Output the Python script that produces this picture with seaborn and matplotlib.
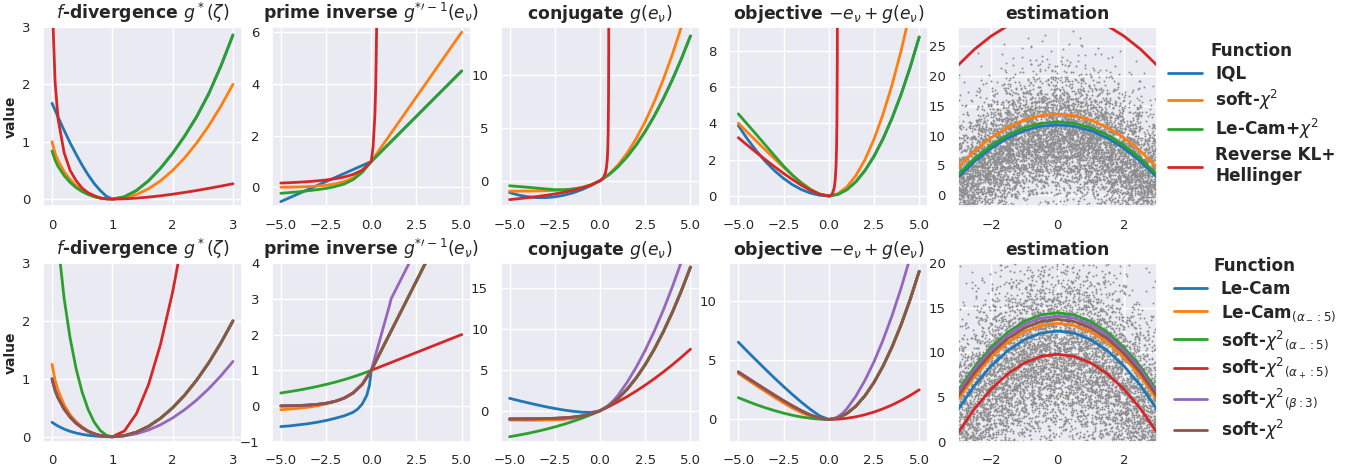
import math
import matplotlib
matplotlib.use("Agg")
import matplotlib.pyplot as plt
import pandas as pd
import seaborn as sns

# ------------------------------------------------------------------ data
TOP_NAMES = ["IQL", r"soft-$\chi^2$", r"Le-Cam+$\chi^2$", "Reverse KL+\nHellinger"]
BOT_NAMES = ["Le-Cam", r"Le-Cam$_{(\alpha_-:5)}$", r"soft-$\chi^2{}_{(\alpha_-:5)}$",
             r"soft-$\chi^2{}_{(\alpha_+:5)}$", r"soft-$\chi^2{}_{(\beta:3)}$", r"soft-$\chi^2$"]
TITLES = [r"$f$-divergence $g^*(\zeta)$", r"prime inverse $g^{*\prime-1}(e_\nu)$",
          r"conjugate $g(e_\nu)$", r"objective $-e_\nu+g(e_\nu)$", "estimation"]

# x grids
X_F = [0, 0.05, 0.1, 0.2, 0.3, 0.4, 0.5, 0.6, 0.7, 0.8, 0.9, 1.0,
       1.2, 1.4, 1.6, 1.8, 2.0, 2.2, 2.4, 2.6, 2.8, 3.0]
X_F_RKL = [0.01, 0.02, 0.05, 0.1, 0.2, 0.3, 0.4, 0.5, 0.6, 0.7, 0.8, 0.9, 1.0,
           1.2, 1.4, 1.6, 1.8, 2.0, 2.2, 2.4, 2.6, 2.8, 3.0]
X_E = [-5, -4.5, -4, -3.5, -3, -2.5, -2, -1.5, -1, -0.5, 0,
       0.5, 1, 1.5, 2, 2.5, 3, 3.5, 4, 4.5, 5]
X_E_RKL_P = [-5, -4.5, -4, -3.5, -3, -2.5, -2, -1.5, -1, -0.5, 0,
             0.1, 0.2, 0.25, 0.3, 0.35]
X_E_RKL_G = [-5, -4.5, -4, -3.5, -3, -2.5, -2, -1.5, -1, -0.5, 0,
             0.1, 0.2, 0.3, 0.35, 0.4, 0.43, 0.45, 0.47, 0.48, 0.49]
X_S = [-3, -2.5, -2, -1.5, -1, -0.5, 0, 0.5, 1, 1.5, 2, 2.5, 3]

# ---- top row
F_IQL = [1.67, 1.55, 1.43, 1.20, 0.98, 0.78, 0.59, 0.42, 0.27, 0.15, 0.05, 0.0,
         0.04, 0.15, 0.32, 0.54, 0.80, 1.10, 1.44, 1.84, 2.32, 2.86]
F_SOFT = [1.0, 0.80, 0.67, 0.48, 0.34, 0.23, 0.15, 0.09, 0.05, 0.02, 0.005, 0.0,
          0.02, 0.08, 0.18, 0.32, 0.5, 0.72, 0.98, 1.28, 1.62, 2.0]
F_LECAM = [0.84, 0.68, 0.57, 0.41, 0.29, 0.20, 0.13, 0.08, 0.04, 0.017, 0.004, 0.0,
           0.04, 0.15, 0.32, 0.54, 0.80, 1.10, 1.44, 1.84, 2.32, 2.86]
F_RKL = [3.6, 2.93, 2.05, 1.40, 0.81, 0.50, 0.32, 0.19, 0.11, 0.06, 0.02, 0.005, 0.0,
         0.005, 0.017, 0.035, 0.058, 0.086, 0.117, 0.151, 0.188, 0.227, 0.268]

P_IQL = [-0.55, -0.395, -0.24, -0.085, 0.07, 0.225, 0.38, 0.535, 0.69, 0.845, 1.0,
         1.35, 1.7, 2.05, 2.4, 2.75, 3.1, 3.45, 3.8, 4.15, 4.5]
P_SOFT = [0.007, 0.011, 0.018, 0.03, 0.05, 0.082, 0.135, 0.223, 0.368, 0.607, 1.0,
          1.5, 2.0, 2.5, 3.0, 3.5, 4.0, 4.5, 5.0, 5.5, 6.0]
P_LECAM = [-0.23, -0.2, -0.17, -0.13, -0.09, -0.04, 0.03, 0.13, 0.3, 0.58, 1.0,
           1.35, 1.7, 2.05, 2.4, 2.75, 3.1, 3.45, 3.8, 4.15, 4.5]
P_RKL = [0.167, 0.182, 0.2, 0.222, 0.25, 0.286, 0.333, 0.4, 0.5, 0.667, 1.0,
         1.56, 2.78, 4.0, 6.25, 11.1]

C_IQL = [-1.125, -1.361, -1.52, -1.601, -1.605, -1.531, -1.38, -1.151, -0.845, -0.461, 0.0,
         0.588, 1.35, 2.288, 3.4, 4.688, 6.15, 7.788, 9.6, 11.588, 13.75]
C_SOFT = [-0.993, -0.989, -0.982, -0.970, -0.950, -0.918, -0.865, -0.777, -0.632, -0.393, 0.0,
          0.625, 1.5, 2.625, 4.0, 5.625, 7.5, 9.625, 12.0, 14.625, 17.5]
C_LECAM = [-0.48, -0.55, -0.62, -0.70, -0.78, -0.85, -0.86, -0.80, -0.66, -0.40, 0.0,
           0.588, 1.35, 2.288, 3.4, 4.688, 6.15, 7.788, 9.6, 11.588, 13.75]
C_RKL = [-1.792, -1.705, -1.609, -1.504, -1.386, -1.253, -1.099, -0.916, -0.693, -0.405, 0.0,
         0.125, 0.333, 0.75, 1.167, 2.0, 3.07, 4.5, 7.83, 12.0, 24.5]

O_IQL = [3.875, 3.139, 2.48, 1.899, 1.395, 0.969, 0.62, 0.349, 0.155, 0.039, 0.0,
         0.088, 0.35, 0.788, 1.4, 2.188, 3.15, 4.288, 5.6, 7.088, 8.75]
O_SOFT = [4.007, 3.511, 3.018, 2.530, 2.050, 1.582, 1.135, 0.723, 0.368, 0.107, 0.0,
          0.125, 0.5, 1.125, 2.0, 3.125, 4.5, 6.125, 8.0, 10.125, 12.5]
O_LECAM = [4.52, 3.95, 3.38, 2.80, 2.22, 1.65, 1.14, 0.70, 0.34, 0.10, 0.0,
           0.088, 0.35, 0.788, 1.4, 2.188, 3.15, 4.288, 5.6, 7.088, 8.75]
O_RKL = [3.208, 2.795, 2.391, 1.996, 1.614, 1.247, 0.901, 0.584, 0.307, 0.095, 0.0,
         0.025, 0.133, 0.45, 0.817, 1.6, 2.64, 4.05, 7.36, 11.52, 24.0]

S_IQL = [2.98, 5.68, 7.88, 9.60, 10.82, 11.56, 11.8, 11.56, 10.82, 9.60, 7.88, 5.68, 2.98]
S_SOFT = [4.69, 7.41, 9.64, 11.37, 12.61, 13.35, 13.6, 13.35, 12.61, 11.37, 9.64, 7.41, 4.69]
S_LECAM = [3.48, 6.18, 8.38, 10.10, 11.32, 12.06, 12.3, 12.06, 11.32, 10.10, 8.38, 6.18, 3.48]
S_RKL = [21.78, 24.48, 26.68, 28.40, 29.62, 30.36, 30.6, 30.36, 29.62, 28.40, 26.68, 24.48, 21.78]

# ---- bottom row
BF_LC = [0.25, 0.215, 0.184, 0.133, 0.094, 0.064, 0.042, 0.025, 0.013, 0.0056, 0.0013, 0.0,
         0.02, 0.08, 0.18, 0.32, 0.5, 0.72, 0.98, 1.28, 1.62, 2.0]
BF_LCA = [1.25, 0.98, 0.80, 0.55, 0.38, 0.26, 0.17, 0.10, 0.055, 0.022, 0.005, 0.0,
          0.02, 0.08, 0.18, 0.32, 0.5, 0.72, 0.98, 1.28, 1.62, 2.0]
BF_SA = [5.0, 4.0, 3.35, 2.39, 1.70, 1.17, 0.767, 0.467, 0.25, 0.107, 0.026, 0.0,
         0.02, 0.08, 0.18, 0.32, 0.5, 0.72, 0.98, 1.28, 1.62, 2.0]
BF_SAP = [1.0, 0.80, 0.67, 0.478, 0.339, 0.233, 0.153, 0.093, 0.050, 0.0215, 0.0052, 0.0,
          0.1, 0.4, 0.9, 1.6, 2.5, 3.6, 4.9, 6.4, 8.1, 10.0]
BF_SB = [1.0, 0.80, 0.67, 0.478, 0.339, 0.233, 0.153, 0.093, 0.050, 0.0215, 0.0052, 0.0,
         0.013, 0.052, 0.117, 0.208, 0.325, 0.468, 0.636, 0.831, 1.052, 1.30]
BF_S = [1.0, 0.80, 0.67, 0.478, 0.339, 0.233, 0.153, 0.093, 0.050, 0.0215, 0.0052, 0.0,
        0.02, 0.08, 0.18, 0.32, 0.5, 0.72, 0.98, 1.28, 1.62, 2.0]

XB_LC = [-5, -4.5, -4, -3.5, -3, -2.5, -2, -1.5, -1, -0.75, -0.5, -0.25, -0.1, 0,
         0.5, 1, 1.5, 2, 2.5, 3, 3.5, 4, 4.5, 5]
PB_LC = [-0.57, -0.55, -0.52, -0.49, -0.45, -0.40, -0.34, -0.27, -0.17, -0.08, 0.06, 0.30, 0.58, 1.0,
         1.5, 2.0, 2.5, 3.0, 3.5, 4.0, 4.5, 5.0, 5.5, 6.0]
PB_LCA = [-0.10, -0.08, -0.06, -0.03, 0.01, 0.06, 0.13, 0.23, 0.38, 0.62, 1.0,
          1.5, 2.0, 2.5, 3.0, 3.5, 4.0, 4.5, 5.0, 5.5, 6.0]
PB_SA = [0.368, 0.407, 0.449, 0.497, 0.549, 0.607, 0.670, 0.741, 0.819, 0.905, 1.0,
         1.5, 2.0, 2.5, 3.0, 3.5, 4.0, 4.5, 5.0, 5.5, 6.0]
PB_SAP = [0.007, 0.011, 0.018, 0.03, 0.05, 0.082, 0.135, 0.223, 0.368, 0.607, 1.0,
          1.1, 1.2, 1.3, 1.4, 1.5, 1.6, 1.7, 1.8, 1.9, 2.0]
XB_SB_P = [-5, -4.5, -4, -3.5, -3, -2.5, -2, -1.5, -1, -0.5, 0,
           0.25, 0.5, 0.75, 1.0, 1.1, 1.5, 2.0, 2.5, 3.0]
PB_SB = [0.007, 0.011, 0.018, 0.03, 0.05, 0.082, 0.135, 0.223, 0.368, 0.607, 1.0,
         1.45, 1.9, 2.35, 2.8, 3.0, 3.4, 3.9, 4.4, 4.9]
PB_S = [0.007, 0.011, 0.018, 0.03, 0.05, 0.082, 0.135, 0.223, 0.368, 0.607, 1.0,
        1.5, 2.0, 2.5, 3.0, 3.5, 4.0, 4.5, 5.0, 5.5, 6.0]

XB_SB = [-5, -4.5, -4, -3.5, -3, -2.5, -2, -1.5, -1, -0.5, 0,
         0.25, 0.5, 0.75, 1.0, 1.5, 2.0, 2.5, 3.0, 3.5, 4.0, 4.5, 5.0]
CB_LC = [1.52, 1.24, 0.98, 0.73, 0.49, 0.28, 0.09, -0.06, -0.17, -0.20, 0.0,
         0.625, 1.5, 2.625, 4.0, 5.625, 7.5, 9.625, 12.0, 14.625, 17.5]
CB_LCA = [-1.12, -1.14, -1.15, -1.15, -1.14, -1.11, -1.05, -0.93, -0.74, -0.43, 0.0,
          0.625, 1.5, 2.625, 4.0, 5.625, 7.5, 9.625, 12.0, 14.625, 17.5]
CB_SA = [-3.16, -2.965, -2.755, -2.515, -2.255, -1.965, -1.65, -1.295, -0.905, -0.475, 0.0,
         0.625, 1.5, 2.625, 4.0, 5.625, 7.5, 9.625, 12.0, 14.625, 17.5]
CB_SAP = [-0.993, -0.989, -0.982, -0.970, -0.950, -0.918, -0.865, -0.777, -0.632, -0.393, 0.0,
          0.525, 1.1, 1.725, 2.4, 3.125, 3.9, 4.725, 5.6, 6.525, 7.5]
CB_SB = [-0.993, -0.989, -0.982, -0.970, -0.950, -0.918, -0.865, -0.777, -0.632, -0.393, 0.0,
         0.306, 0.725, 1.256, 1.9, 3.47, 5.30, 7.37, 9.70, 12.27, 15.10, 18.17, 21.5]
CB_S = [-0.993, -0.989, -0.982, -0.970, -0.950, -0.918, -0.865, -0.777, -0.632, -0.393, 0.0,
        0.625, 1.5, 2.625, 4.0, 5.625, 7.5, 9.625, 12.0, 14.625, 17.5]

OB_LC = [6.52, 5.74, 4.98, 4.23, 3.49, 2.78, 2.09, 1.44, 0.83, 0.30, 0.0,
         0.125, 0.5, 1.125, 2.0, 3.125, 4.5, 6.125, 8.0, 10.125, 12.5]
OB_LCA = [3.88, 3.36, 2.85, 2.35, 1.86, 1.39, 0.95, 0.57, 0.26, 0.07, 0.0,
          0.125, 0.5, 1.125, 2.0, 3.125, 4.5, 6.125, 8.0, 10.125, 12.5]
OB_SA = [1.84, 1.535, 1.245, 0.985, 0.745, 0.535, 0.35, 0.205, 0.095, 0.025, 0.0,
         0.125, 0.5, 1.125, 2.0, 3.125, 4.5, 6.125, 8.0, 10.125, 12.5]
OB_SAP = [4.007, 3.511, 3.018, 2.530, 2.050, 1.582, 1.135, 0.723, 0.368, 0.107, 0.0,
          0.025, 0.1, 0.225, 0.4, 0.625, 0.9, 1.225, 1.6, 2.025, 2.5]
OB_SB = [4.007, 3.511, 3.018, 2.530, 2.050, 1.582, 1.135, 0.723, 0.368, 0.107, 0.0,
         0.056, 0.225, 0.506, 0.9, 1.97, 3.30, 4.87, 6.70, 8.77, 11.10, 13.67, 16.5]
OB_S = [4.007, 3.511, 3.018, 2.530, 2.050, 1.582, 1.135, 0.723, 0.368, 0.107, 0.0,
        0.125, 0.5, 1.125, 2.0, 3.125, 4.5, 6.125, 8.0, 10.125, 12.5]

SB_LC = [3.63, 6.31, 8.50, 10.21, 11.43, 12.16, 12.4, 12.16, 11.43, 10.21, 8.50, 6.31, 3.63]
SB_LCA = [4.74, 7.34, 9.47, 11.13, 12.31, 13.02, 13.26, 13.02, 12.31, 11.13, 9.47, 7.34, 4.74]
SB_SA = [5.74, 8.40, 10.57, 12.26, 13.47, 14.20, 14.44, 14.20, 13.47, 12.26, 10.57, 8.40, 5.74]
SB_SAP = [1.04, 3.72, 5.91, 7.61, 8.83, 9.56, 9.8, 9.56, 8.83, 7.61, 5.91, 3.72, 1.04]
SB_SB = [5.48, 8.10, 10.25, 11.92, 13.12, 13.83, 14.07, 13.83, 13.12, 11.92, 10.25, 8.10, 5.48]
SB_S = [5.10, 7.73, 9.88, 11.55, 12.74, 13.46, 13.7, 13.46, 12.74, 11.55, 9.88, 7.73, 5.10]

# scatter cloud: point counts read per cell (x-bins of 0.5, y-bins of 2, from y=-2 upward)
CLOUD_X_EDGES = [-3, -2.5, -2, -1.5, -1, -0.5, 0, 0.5, 1, 1.5, 2, 2.5, 3]
CLOUD_Y_EDGES = [-2, 0, 2, 4, 6, 8, 10, 12, 14, 16, 18, 20, 22, 24, 26, 28]
CLOUD_COUNTS = [
    [70, 85, 88, 78, 58, 38, 20, 10, 5, 3, 2, 1, 0, 0, 0],
    [43, 65, 83, 88, 80, 63, 43, 25, 13, 7, 3, 2, 1, 0, 0],
    [25, 43, 65, 83, 88, 80, 63, 43, 25, 13, 7, 3, 2, 1, 0],
    [15, 30, 48, 70, 85, 88, 78, 58, 38, 20, 10, 5, 2, 1, 0],
    [10, 20, 38, 60, 78, 88, 83, 68, 48, 28, 15, 7, 3, 2, 1],
    [8, 18, 33, 55, 75, 88, 85, 73, 53, 33, 18, 8, 4, 2, 1],
    [8, 18, 33, 55, 75, 88, 85, 73, 53, 33, 18, 8, 4, 2, 1],
    [10, 20, 38, 60, 78, 88, 83, 68, 48, 28, 15, 7, 3, 2, 1],
    [15, 30, 48, 70, 85, 88, 78, 58, 38, 20, 10, 5, 2, 1, 0],
    [25, 43, 65, 83, 88, 80, 63, 43, 25, 13, 7, 3, 2, 1, 0],
    [43, 65, 83, 88, 80, 63, 43, 25, 13, 7, 3, 2, 1, 0, 0],
    [70, 85, 88, 78, 58, 38, 20, 10, 5, 3, 2, 1, 0, 0, 0],
]

COLORS = ["#1f77b4", "#ff7f0e", "#2ca02c", "#d62728", "#9467bd", "#8c564b"]


# ------------------------------------------------------------------ helpers
def frame(names, xs_list, ys_list):
    parts = [pd.DataFrame({"x": xs, "value": ys, "Function": n})
             for n, xs, ys in zip(names, xs_list, ys_list)]
    return pd.concat(parts, ignore_index=True)


def _spread(k, a, b):
    # deterministic scatter of a point inside its cell (hash, no RNG)
    h = math.sin(k * a + b) * 43758.5453
    return h - math.floor(h)


def cloud_frame(offset):
    xs, ys = [], []
    k = offset
    for i, col in enumerate(CLOUD_COUNTS):
        x0, x1 = CLOUD_X_EDGES[i], CLOUD_X_EDGES[i + 1]
        for j, n in enumerate(col):
            y0, y1 = CLOUD_Y_EDGES[j], CLOUD_Y_EDGES[j + 1]
            for _ in range(n):
                k += 1
                xs.append(x0 + _spread(k, 12.9898, 0.31) * (x1 - x0))
                ys.append(y0 + _spread(k, 78.233, 1.73) * (y1 - y0))
    return pd.DataFrame({"x": xs, "y": ys})


def draw(ax, names, xs_list, ys_list, legend=False):
    df = frame(names, xs_list, ys_list)
    sns.lineplot(data=df, x="x", y="value", hue="Function", hue_order=names,
                 palette=COLORS[:len(names)], estimator=None, sort=False,
                 linewidth=2.0, ax=ax, legend=legend)
    ax.set_xlabel("")
    ax.set_ylabel("")


# ------------------------------------------------------------------ figure
sns.set_theme(style="darkgrid")
plt.rcParams["font.family"] = ["DejaVu Sans"]

fig, axes = plt.subplots(2, 5, figsize=(13.52, 4.65), dpi=100)
fig.subplots_adjust(left=0.0318, right=0.8558, bottom=0.0495, top=0.942,
                    wspace=0.1495, hspace=0.318)

T4 = TOP_NAMES
draw(axes[0, 0], T4, [X_F, X_F, X_F, X_F_RKL], [F_IQL, F_SOFT, F_LECAM, F_RKL])
draw(axes[0, 1], T4, [X_E, X_E, X_E, X_E_RKL_P], [P_IQL, P_SOFT, P_LECAM, P_RKL])
draw(axes[0, 2], T4, [X_E, X_E, X_E, X_E_RKL_G], [C_IQL, C_SOFT, C_LECAM, C_RKL])
draw(axes[0, 3], T4, [X_E, X_E, X_E, X_E_RKL_G], [O_IQL, O_SOFT, O_LECAM, O_RKL])
cl = cloud_frame(0)
sns.scatterplot(data=cl, x="x", y="y", color="#8c8c8c", s=2, linewidth=0,
                ax=axes[0, 4], legend=False)
draw(axes[0, 4], T4, [X_S] * 4, [S_IQL, S_SOFT, S_LECAM, S_RKL], legend=True)

B6 = BOT_NAMES
draw(axes[1, 0], B6, [X_F] * 6, [BF_LC, BF_LCA, BF_SA, BF_SAP, BF_SB, BF_S])
draw(axes[1, 1], B6, [XB_LC, X_E, X_E, X_E, XB_SB_P, X_E],
     [PB_LC, PB_LCA, PB_SA, PB_SAP, PB_SB, PB_S])
draw(axes[1, 2], B6, [X_E, X_E, X_E, X_E, XB_SB, X_E],
     [CB_LC, CB_LCA, CB_SA, CB_SAP, CB_SB, CB_S])
draw(axes[1, 3], B6, [X_E, X_E, X_E, X_E, XB_SB, X_E],
     [OB_LC, OB_LCA, OB_SA, OB_SAP, OB_SB, OB_S])
cl2 = cloud_frame(20000)
sns.scatterplot(data=cl2, x="x", y="y", color="#8c8c8c", s=2, linewidth=0,
                ax=axes[1, 4], legend=False)
draw(axes[1, 4], B6, [X_S] * 6, [SB_LC, SB_LCA, SB_SA, SB_SAP, SB_SB, SB_S], legend=True)

# limits & ticks
lims = [
    [(-0.12, 3.0), (-0.72, 6.2), (-2.4, 14.6), (-0.55, 9.3), (-1.8, 28.2)],
    [(-0.09, 3.0), (-1.0, 4.0), (-3.8, 18.0), (-1.9, 13.2), (0.0, 20.0)],
]
yt = [
    [[0, 1, 2, 3], [0, 2, 4, 6], [0, 5, 10], [0, 2, 4, 6, 8], [0, 5, 10, 15, 20, 25]],
    [[0, 1, 2, 3], [-1, 0, 1, 2, 3, 4], [0, 5, 10, 15], [0, 5, 10], [0, 5, 10, 15, 20]],
]
for r in range(2):
    for c in range(5):
        ax = axes[r, c]
        ax.set_ylim(*lims[r][c])
        ax.set_yticks(yt[r][c])
        ax.set_title(TITLES[c], fontsize=12.4, fontweight="bold", pad=6)
        ax.tick_params(labelsize=9.5, pad=3)
        if c == 0:
            ax.set_xlim(-0.15, 3.15)
            ax.set_xticks([0, 1, 2, 3])
            ax.set_ylabel("value", fontsize=10, fontweight="bold", labelpad=3)
        elif c < 4:
            ax.set_xlim(-5.5, 5.5)
            ax.set_xticks([-5, -2.5, 0, 2.5, 5])
        else:
            ax.set_xlim(-3, 3)
            ax.set_xticks([-2, 0, 2])

# legends
anchors = [(0.8587, 0.925), (0.863, 0.462)]
for r in range(2):
    ax = axes[r, 4]
    leg = ax.get_legend()
    handles = leg.legend_handles
    labels = [t.get_text() for t in leg.get_texts()]
    leg.remove()
    fig.legend(handles, labels, loc="upper left", bbox_to_anchor=anchors[r],
               bbox_transform=fig.transFigure, frameon=False, borderaxespad=0,
               labelspacing=0.3,
               title="Function", prop={"weight": "bold", "size": 12.2},
               title_fontproperties={"weight": "bold", "size": 12.2})

fig.savefig("out.png", dpi=100)
